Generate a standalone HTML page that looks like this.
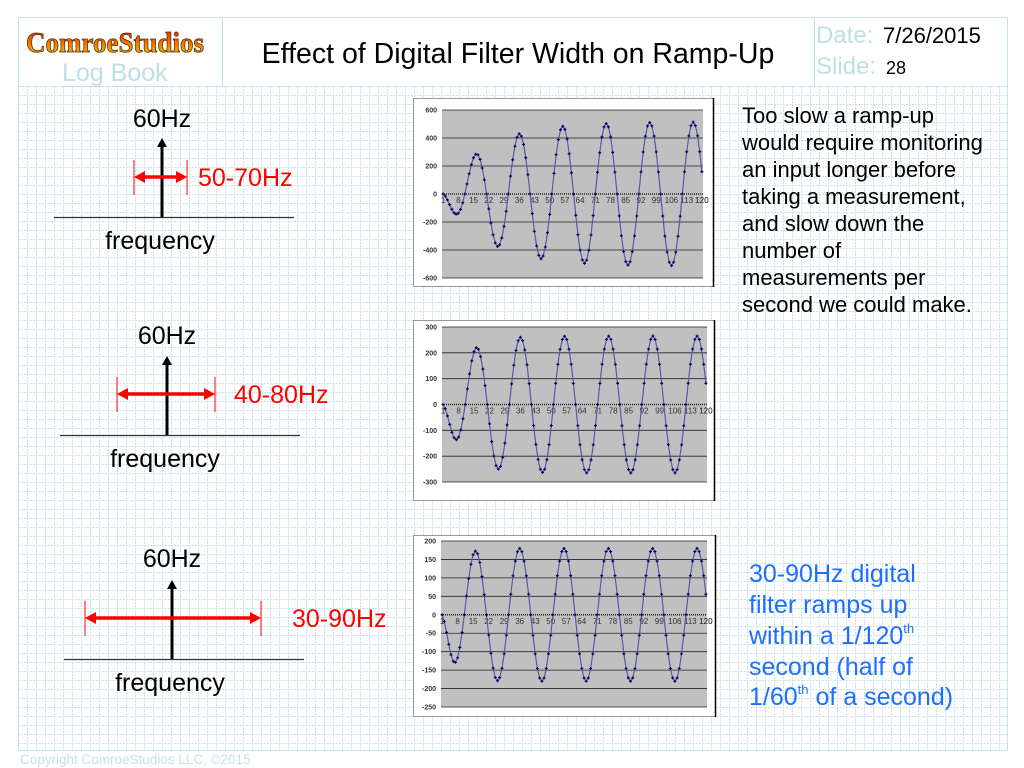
<!DOCTYPE html>
<html><head><meta charset="utf-8">
<style>
html,body{margin:0;padding:0;background:#fff;}
svg{display:block;font-family:"Liberation Sans",Arial,sans-serif;}
</style></head>
<body>
<svg id="s" width="1024" height="768" viewBox="0 0 1024 768" xmlns="http://www.w3.org/2000/svg">
<defs>
<pattern id="g" x="18" y="86" width="9" height="9" patternUnits="userSpaceOnUse">
<path d="M0 0.5H9M0.5 0V9" stroke="#c8e4eb" stroke-width="1" stroke-dasharray="2 1" fill="none"/>
</pattern>
<linearGradient id="lg" x1="0" y1="0" x2="0" y2="1">
<stop offset="0" stop-color="#d42000"/><stop offset="0.55" stop-color="#f08000"/><stop offset="1" stop-color="#ffd800"/>
</linearGradient>
</defs>
<rect x="18" y="86" width="989" height="664" fill="url(#g)"/>
<rect x="18.5" y="17.5" width="989" height="733" fill="none" stroke="#c4e2e8"/>
<line x1="18" y1="86.5" x2="1007" y2="86.5" stroke="#c4e2e8"/>
<line x1="222.5" y1="17" x2="222.5" y2="86" stroke="#c4e2e8"/>
<line x1="814.5" y1="17" x2="814.5" y2="86" stroke="#c4e2e8"/>
<text x="115" y="52" text-anchor="middle" font-family="'Liberation Serif',serif" font-weight="bold" font-size="29" fill="url(#lg)" stroke="#5a2a00" stroke-width="0.8" textLength="178" lengthAdjust="spacingAndGlyphs">ComroeStudios</text>
<text x="62" y="81" font-size="25" fill="#bde0e6">Log Book</text>
<text x="518" y="63" text-anchor="middle" font-size="28.5" fill="#000">Effect of Digital Filter Width on Ramp-Up</text>
<text x="816" y="43" font-size="24" fill="#bde0e6">Date:</text>
<text x="883" y="43" font-size="22" fill="#000">7/26/2015</text>
<text x="816" y="74" font-size="24" fill="#bde0e6">Slide:</text>
<text x="886" y="74" font-size="18" fill="#000">28</text>
<text x="20" y="764" font-size="13.5" fill="#c4e2e8">Copyright ComroeStudios LLC, ©2015</text>

<g id="diag"></g>
<g id="charts"></g>

<g font-size="22" fill="#000">
<text x="742" y="123">Too slow a ramp-up</text>
<text x="742" y="150">would require monitoring</text>
<text x="742" y="177">an input longer before</text>
<text x="742" y="204">taking a measurement,</text>
<text x="742" y="231">and slow down the</text>
<text x="742" y="258">number of</text>
<text x="742" y="285">measurements per</text>
<text x="742" y="312">second we could make.</text>
</g>
<g font-size="25" fill="#1f6fff">
<text x="749" y="582">30-90Hz digital</text>
<text x="749" y="613">filter ramps up</text>
<text x="749" y="644">within a 1/120<tspan font-size="13" dy="-11">th</tspan></text>
<text x="749" y="675">second (half of</text>
<text x="749" y="705">1/60<tspan font-size="13" dy="-11">th</tspan><tspan dy="11"> of a second)</tspan></text>
</g>
</svg>
<script>
var NS="http://www.w3.org/2000/svg";
function el(p,t,a,txt){var e=document.createElementNS(NS,t);for(var k in a)e.setAttribute(k,a[k]);if(txt!==undefined)e.textContent=txt;p.appendChild(e);return e;}
var d=document.getElementById("diag");
var D=[{cx:162,ty:118,top:138,base:217,bl:54,br:294,ay:177,a1:134,a2:187,lab:"50-70Hz",lx:198,fy:249},
{cx:167,ty:335,top:356,base:435,bl:60,br:300,ay:394,a1:117,a2:215,lab:"40-80Hz",lx:234,fy:467},
{cx:172,ty:558,top:580,base:659,bl:64,br:304,ay:618,a1:85,a2:261,lab:"30-90Hz",lx:292,fy:691}];
D.forEach(function(o){
 el(d,"text",{x:o.cx,y:o.ty+9,"text-anchor":"middle","font-size":25,fill:"#000"},"60Hz");
 el(d,"line",{x1:o.bl,y1:o.base+.5,x2:o.br,y2:o.base+.5,stroke:"#333","stroke-width":1.2});
 el(d,"line",{x1:o.cx,y1:o.top+6,x2:o.cx,y2:o.base,stroke:"#000","stroke-width":3});
 el(d,"polygon",{points:(o.cx-5)+","+(o.top+9)+" "+o.cx+","+o.top+" "+(o.cx+5)+","+(o.top+9),fill:"#000"});
 el(d,"line",{x1:o.a1+8,y1:o.ay,x2:o.a2-8,y2:o.ay,stroke:"#f00","stroke-width":3.5});
 el(d,"polygon",{points:o.a1+","+o.ay+" "+(o.a1+11)+","+(o.ay-6)+" "+(o.a1+11)+","+(o.ay+6),fill:"#f00"});
 el(d,"polygon",{points:o.a2+","+o.ay+" "+(o.a2-11)+","+(o.ay-6)+" "+(o.a2-11)+","+(o.ay+6),fill:"#f00"});
 el(d,"line",{x1:o.a1,y1:o.ay-17,x2:o.a1,y2:o.ay+18,stroke:"#f00","stroke-width":1});
 el(d,"line",{x1:o.a2,y1:o.ay-17,x2:o.a2,y2:o.ay+18,stroke:"#f00","stroke-width":1});
 el(d,"text",{x:o.lx,y:o.ay+9,"font-size":25,fill:"#f00"},o.lab);
 el(d,"text",{x:o.cx-2,y:o.fy,"text-anchor":"middle","font-size":25,fill:"#000"},"frequency");
});
var c=document.getElementById("charts");
var C=[{bx:413,by:98,bw:300,bh:188,px:442,py:110,pw:261,ph:168,min:-600,max:600,step:200,A:515,tau:20},
{bx:413,by:320,bw:301,bh:180,px:442,py:327,pw:265,ph:155,min:-300,max:300,step:100,A:265,tau:9},
{bx:413,by:535,bw:302,bh:181,px:441,py:541,pw:266,ph:166,min:-250,max:200,step:50,A:180,tau:5}];
C.forEach(function(o){
 el(c,"rect",{x:o.bx+.5,y:o.by+.5,width:o.bw,height:o.bh,fill:"#fff",stroke:"#999"});
 el(c,"line",{x1:o.bx+o.bw+.5,y1:o.by,x2:o.bx+o.bw+.5,y2:o.by+o.bh+1,stroke:"#000","stroke-width":1.5});
 el(c,"rect",{x:o.px,y:o.py,width:o.pw,height:o.ph,fill:"#c0c0c0"});
 function Y(v){return o.py+(o.max-v)/(o.max-o.min)*o.ph;}
 for(var v=o.min;v<=o.max;v+=o.step){
  var y=Y(v);
  if(v!==0)el(c,"line",{x1:o.px,y1:y,x2:o.px+o.pw,y2:y,stroke:"#222","stroke-width":0.8});
  el(c,"text",{x:o.px-5,y:y+2.5,"text-anchor":"end","font-size":7,"font-weight":"bold",fill:"#333"},v);
 }
 var y0=Y(0);
 el(c,"line",{x1:o.px,y1:y0,x2:o.px+o.pw,y2:y0,stroke:"#222","stroke-width":1.5,"stroke-dasharray":"1 1"});
 function X(i){return o.px+(i-0.5)/120*o.pw;}
 for(var i=1;i<=120;i+=7){
  el(c,"text",{x:X(i),y:y0+9,"text-anchor":"middle","font-size":8,fill:"#333"},i);
 }
 el(c,"text",{x:X(120),y:y0+9,"text-anchor":"middle","font-size":8,fill:"#333"},"120");
 var pts=[],m="";
 for(var i=1;i<=120;i++){
  var A=o.A*(1-Math.exp(-i/o.tau));
  var v=-A*Math.sin(2*Math.PI*(i-1)/20);
  var x=X(i),y=Y(v);pts.push(x.toFixed(1)+","+y.toFixed(1));
  m+="M"+(x-1.5).toFixed(1)+" "+y.toFixed(1)+"h3M"+x.toFixed(1)+" "+(y-1.5).toFixed(1)+"v3";
 }
 el(c,"polyline",{points:pts.join(" "),fill:"none",stroke:"#5858a8","stroke-width":1.2});
 el(c,"path",{d:m,stroke:"#000060","stroke-width":1.1,fill:"none"});
});
</script>
</body></html>
